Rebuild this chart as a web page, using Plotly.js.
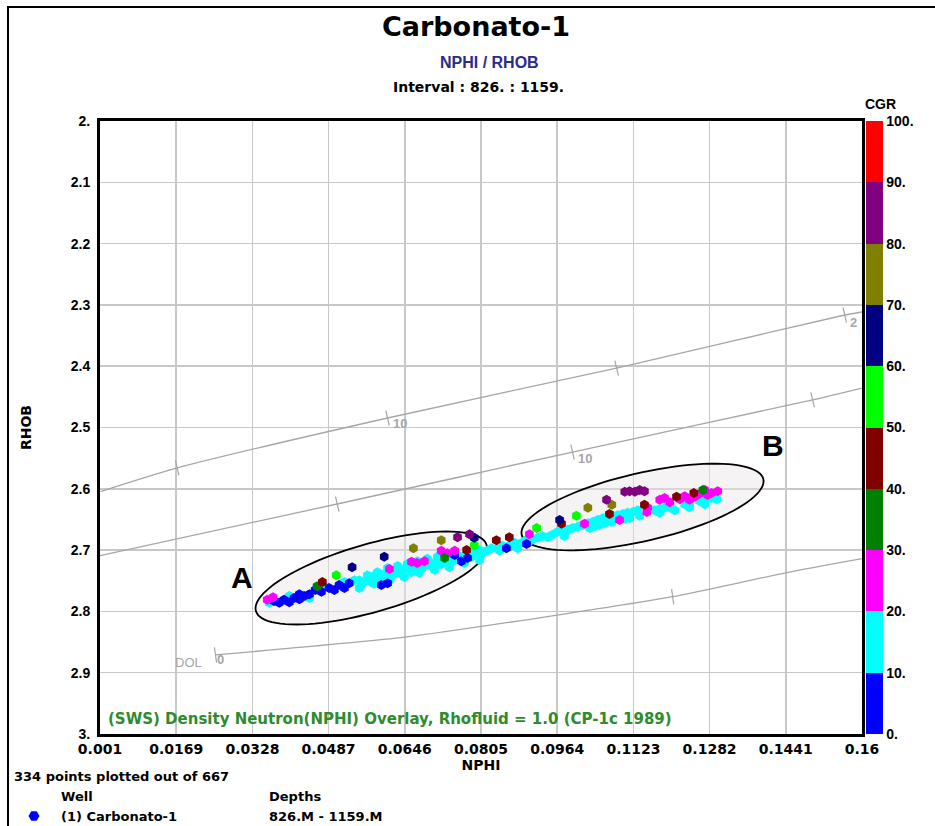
<!DOCTYPE html>
<html><head><meta charset="utf-8">
<script src="https://cdn.plot.ly/plotly-3.0.1.min.js"></script>
<style>html,body{margin:0;padding:0;background:#fff}#chart{width:935px;height:826px}</style>
</head><body><div id="chart"></div>
<script>
const FONT = 'Liberation Sans, Arial, Helvetica, sans-serif';
const WIDE = 'DejaVu Sans, Verdana, sans-serif';

// ---- axes ----
const NPHI_TICKS = [0.001,0.0169,0.0328,0.0487,0.0646,0.0805,0.0964,0.1123,0.1282,0.1441,0.16];
const NPHI_LABELS = ['0.001','0.0169','0.0328','0.0487','0.0646','0.0805','0.0964','0.1123','0.1282','0.1441','0.16'];
const RHOB_TICKS = [2,2.1,2.2,2.3,2.4,2.5,2.6,2.7,2.8,2.9,3];
const RHOB_LABELS = ['2.','2.1','2.2','2.3','2.4','2.5','2.6','2.7','2.8','2.9','3.'];
const CGR_TICKS = [0,10,20,30,40,50,60,70,80,90,100];
const CGR_LABELS = ['0.','10.','20.','30.','40.','50.','60.','70.','80.','90.','100.'];
const CGR_COLORS = ['#0000ff','#00ffff','#ff00ff','#008000','#800000','#00ff00','#000080','#808000','#800080','#ff0000'];

// ---- well points (NPHI, RHOB, CGR) ----
// cyan (10-20)
const nphiCyan = [0.0363,0.0405,0.0447,0.0478,0.0520,0.0541,0.0551,0.0562,0.0572,0.0582,0.0593,0.0603,0.0614,0.0624,0.0635,0.0645,0.0655,0.0666,0.0676,0.0687,0.0697,0.0708,0.0718,0.0729,0.0739,0.0750,0.0760,0.0770,0.0781,0.0791,0.0802,0.0812,
  0.0555,0.0576,0.0597,0.0618,0.0639,0.0660,0.0681,0.0702,0.0722,0.0743,0.0764,0.0785,0.0806,
  0.0568,0.0589,0.0610,0.0631,0.0651,0.0672,0.0693,0.0714,0.0735,
  0.0551,0.0582,0.0614,0.0645,0.0676,0.0708,0.0739,0.0770,0.0802,
  0.0818,0.0827,0.0839,0.0850,0.0864,0.0875,0.0885,0.0896,0.0910,0.0923,0.0933,0.0944,0.0954,0.0965,0.0844,0.0881,
  0.0975,0.0986,0.0996,0.0979,0.1007,0.1017,0.1028,0.1038,0.1048,0.1042,0.1059,0.1063,0.1069,0.1080,0.1090,0.1101,0.1111,0.1122,0.1132,0.1115,0.1167,0.1178,0.1188,0.1199,0.1230,0.1240,0.1261,0.1272,0.1286,0.1297,
  0.1032,0.1052,0.1078,0.1105,0.1136,0.1178,0.1209,0.1240,0.1272];
const rhobCyan = [2.786,2.775,2.778,2.759,2.752,2.749,2.749,2.752,2.746,2.742,2.744,2.739,2.736,2.739,2.732,2.731,2.731,2.726,2.724,2.726,2.719,2.721,2.716,2.718,2.713,2.716,2.710,2.710,2.703,2.705,2.700,2.703,
  2.757,2.752,2.749,2.744,2.739,2.736,2.731,2.726,2.723,2.719,2.714,2.711,2.708,
  2.741,2.736,2.729,2.726,2.723,2.718,2.714,2.711,2.708,
  2.762,2.755,2.749,2.744,2.737,2.732,2.728,2.721,2.716,
  2.701,2.697,2.698,2.693,2.693,2.688,2.690,2.685,2.684,2.680,2.677,2.679,2.675,2.670,2.701,2.697,
  2.670,2.667,2.664,2.677,2.662,2.659,2.656,2.654,2.651,2.661,2.648,2.656,2.646,2.644,2.643,2.641,2.639,2.638,2.635,2.648,2.635,2.633,2.631,2.630,2.625,2.623,2.620,2.618,2.615,2.617,
  2.664,2.659,2.654,2.649,2.644,2.639,2.635,2.630,2.625];
// blue (0-10)
const nphiBlue = [0.0373,0.0384,0.0394,0.0405,0.0415,0.0426,0.0436,0.0426,0.0447,0.0459,0.0472,0.0488,0.0499,0.0509,0.0520,0.0530,0.0597,0.0610,0.0750,0.0764,0.0777,0.0858,0.0900];
const rhobBlue = [2.783,2.786,2.781,2.785,2.778,2.780,2.775,2.772,2.772,2.765,2.768,2.762,2.765,2.757,2.762,2.754,2.757,2.754,2.708,2.718,2.713,2.697,2.690];
// magenta (20-30)
const nphiMag = [0.0359,0.0371,0.0614,0.0660,0.0672,0.0687,0.0722,0.0735,0.0750,0.0906,0.1021,0.1094,0.1151,0.1153,0.1178,0.1188,0.1199,0.1220,0.1230,0.1240,0.1251,0.1261,0.1278,0.1286,0.1299,0.1272];
const rhobMag = [2.781,2.777,2.731,2.719,2.721,2.718,2.701,2.705,2.701,2.674,2.657,2.651,2.638,2.631,2.618,2.615,2.622,2.617,2.612,2.618,2.613,2.608,2.610,2.607,2.604,2.602];
// other classes: green 30-40, maroon 40-50, lime 50-60, navy 60-70, olive 70-80, purple 80-90
const nphiOther = [0.0463,0.0729,0.1268, 0.0474,0.0775,0.0837,0.0864,0.0973,0.1073,0.1146,0.1213,0.1249, 0.0503,0.0791,0.0921,0.1004, 0.0536,0.0603,0.0791,0.0969, 0.0664,0.0722,0.1028,0.1078, 0.0756,0.0781,0.1067,0.1105,0.1115,0.1126,0.1136,0.1146];
const rhobOther = [2.759,2.713,2.602, 2.752,2.700,2.684,2.679,2.657,2.641,2.626,2.613,2.607, 2.741,2.692,2.664,2.644, 2.728,2.711,2.680,2.651, 2.697,2.684,2.631,2.626, 2.679,2.674,2.618,2.605,2.604,2.605,2.602,2.604];
const cgrOther = [35,35,35, 45,45,45,45,45,45,45,45,45, 55,55,55,55, 65,65,65,65, 75,75,75,75, 85,85,85,85,85,85,85,85];

// ---- CP-1c overlay lines ----
const ssN = [0.0011,0.0171,0.0610,0.1088,0.1564,0.16];
const ssR = [2.6047,2.566,2.4845,2.403,2.3165,2.3116];
const ssTickN = [0.0171,0.0610,0.1088,0.1564];
const ssTickR = [2.566,2.4845,2.403,2.3165];
const lsN = [0.001,0.0505,0.0996,0.1497,0.16];
const lsR = [2.709,2.6248,2.540,2.455,2.4356];
const lsTickN = [0.0505,0.0996,0.1497];
const lsTickR = [2.6248,2.540,2.455];
const dolN = [0.0251,0.0646,0.0964,0.1205,0.1441,0.16];
const dolR = [2.871,2.842,2.806,2.776,2.737,2.714];
const dolTickN = [0.0251,0.1205];
const dolTickR = [2.871,2.776];

// ---- page geometry ----
const W=935,H=826,ML=100,MR=73,MT=121,MB=92;
const PW=W-ML-MR, PH=H-MT-MB;
const XR=[0.001,0.16], YR=[3,2];
function px(xp){return (xp-ML)/PW;}
function py(yp){return (H-MB-yp)/PH;}

function ellipsePath(cx,cy,a,b,deg){
  const th=deg*Math.PI/180, xp=(XR[1]-XR[0])/PW, yp=(YR[0]-YR[1])/PH;
  let s='';
  for(let i=0;i<=96;i++){
    const t=2*Math.PI*i/96;
    const sx=a*Math.cos(t)*Math.cos(th)+b*Math.sin(t)*Math.sin(th);
    const sy=-a*Math.cos(t)*Math.sin(th)+b*Math.sin(t)*Math.cos(th);
    s+=(i?'L':'M')+(cx+sx*xp).toFixed(6)+','+(cy+sy*yp).toFixed(6);
  }
  return s+'Z';
}

const cs=[];
CGR_COLORS.forEach((c,i)=>{cs.push([i/10,c]);cs.push([(i+1)/10,c]);});

const nphiAll=[].concat(nphiCyan,nphiBlue,nphiMag,nphiOther);
const rhobAll=[].concat(rhobCyan,rhobBlue,rhobMag,rhobOther);
const cgrAll=[].concat(nphiCyan.map(()=>15),nphiBlue.map(()=>5),nphiMag.map(()=>25),cgrOther);

const GRAY='#a6a6a6';
const lineTrace=(x,y)=>({x:x,y:y,type:'scatter',mode:'lines',line:{color:GRAY,width:1.3,shape:'spline',smoothing:0.6},hoverinfo:'skip',showlegend:false});
const tickTrace=(x,y,ang)=>({x:x,y:y,type:'scatter',mode:'markers',marker:{symbol:'line-ns',size:11,angle:ang,line:{color:GRAY,width:1.2}},hoverinfo:'skip',showlegend:false});

const traces=[
  lineTrace(ssN,ssR), tickTrace(ssTickN,ssTickR,-13),
  lineTrace(lsN,lsR), tickTrace(lsTickN,lsTickR,-13),
  lineTrace(dolN,dolR), tickTrace(dolTickN,dolTickR,-8),
  {x:nphiAll,y:rhobAll,type:'scatter',mode:'markers',showlegend:false,
   marker:{symbol:'hexagon',size:10,color:cgrAll,cmin:0,cmax:100,colorscale:cs,line:{width:0},
     colorbar:{x:px(866),xanchor:'left',xref:'paper',y:0,yanchor:'bottom',len:1,lenmode:'fraction',
       thickness:17,thicknessmode:'pixels',outlinewidth:0,xpad:0,ypad:0,ticks:'',
       tickvals:CGR_TICKS,ticktext:CGR_LABELS,tickfont:{family:FONT,size:14,color:'#000',weight:'bold'}}}}
];

const bold=(s,c,f)=>({family:f||FONT,size:s,color:c||'#000',weight:'bold'});
const T=(text,xp,yp,font,xa)=>({text:text,xref:'paper',yref:'paper',x:px(xp),y:py(yp),xanchor:xa||'center',yanchor:'middle',showarrow:false,font:font});
const D=(text,x,y,font)=>({text:text,xref:'x',yref:'y',x:x,y:y,xanchor:'center',yanchor:'middle',showarrow:false,font:font});
const ann=[
  T('NPHI / RHOB',489,63,bold(16,'#2b2b8c')),
  T('Interval : 826. : 1159.',478,87,bold(14,'#000',WIDE)),
  T('CGR',880,104,bold(14)),
  T('(SWS) Density Neutron(NPHI) Overlay, Rhofluid = 1.0 (CP-1c 1989)',106,719,bold(15,'#2e8b2e',WIDE),'left'),
  D('A',0.0307,2.7455,bold(30)),
  D('B',0.1414,2.5286,bold(30)),
  D('10',0.0635,2.4927,bold(13,GRAY)),
  D('10',0.1023,2.550,bold(13,GRAY)),
  D('2',0.1582,2.328,bold(13,GRAY)),
  D('DOL',0.0194,2.884,{family:FONT,size:13,color:GRAY}),
  D('0',0.0261,2.879,bold(13,GRAY)),
  T('334 points plotted out of 667',12,776,bold(13,'#000',WIDE),'left'),
  T('Well',59,796,bold(13,'#000',WIDE),'left'),
  T('Depths',267,796,bold(13,'#000',WIDE),'left'),
  T('(1) Carbonato-1',59,816,bold(13,'#000',WIDE),'left'),
  T('826.M - 1159.M',267,816,bold(13,'#000',WIDE),'left')
];

const shapes=[
  {type:'path',xref:'x',yref:'y',layer:'between',path:ellipsePath(0.0576,2.7455,120,34,16),fillcolor:'rgba(232,228,228,0.45)',line:{color:'#000',width:1.8}},
  {type:'path',xref:'x',yref:'y',layer:'between',path:ellipsePath(0.1142,2.6297,124,34,13),fillcolor:'rgba(232,228,228,0.45)',line:{color:'#000',width:1.8}},
  {type:'line',xref:'paper',yref:'paper',x0:px(7),x1:px(935),y0:py(7),y1:py(7),line:{color:'#000',width:2}},
  {type:'line',xref:'paper',yref:'paper',x0:px(8),x1:px(8),y0:py(7),y1:py(826),line:{color:'#000',width:2}},
  {type:'path',xref:'paper',yref:'paper',xsizemode:'pixel',ysizemode:'pixel',xanchor:px(34),yanchor:py(816),
   path:'M5.5,0 L2.75,4.8 L-2.75,4.8 L-5.5,0 L-2.75,-4.8 L2.75,-4.8 Z',fillcolor:'#0000ff',line:{width:0}}
];

const layout={
  width:W,height:H,margin:{l:ML,r:MR,t:MT,b:MB,pad:0},
  paper_bgcolor:'#fff',plot_bgcolor:'#fff',showlegend:false,
  title:{text:'Carbonato-1',x:476/W,xanchor:'center',xref:'container',y:1-27/H,yanchor:'middle',yref:'container',font:bold(27,'#000',WIDE)},
  xaxis:{range:XR,autorange:false,tickvals:NPHI_TICKS,ticktext:NPHI_LABELS,ticks:'',showgrid:true,gridcolor:'#c8c8c8',gridwidth:1.5,
    zeroline:false,showline:true,linecolor:'#000',linewidth:3,mirror:true,tickfont:bold(14,'#000',WIDE),
    title:{text:'NPHI',font:bold(14,'#000',WIDE),standoff:4}},
  yaxis:{range:YR,autorange:false,tickvals:RHOB_TICKS,ticktext:RHOB_LABELS,ticks:'',showgrid:true,gridcolor:'#c8c8c8',gridwidth:1.5,
    zeroline:false,showline:true,linecolor:'#000',linewidth:3,mirror:true,tickfont:bold(14),ticklabelstandoff:4,
    title:{text:'RHOB',font:bold(14,'#000',WIDE),standoff:36}},
  annotations:ann,shapes:shapes
};
Plotly.newPlot('chart',traces,layout,{staticPlot:true,displayModeBar:false});
</script></body></html>
